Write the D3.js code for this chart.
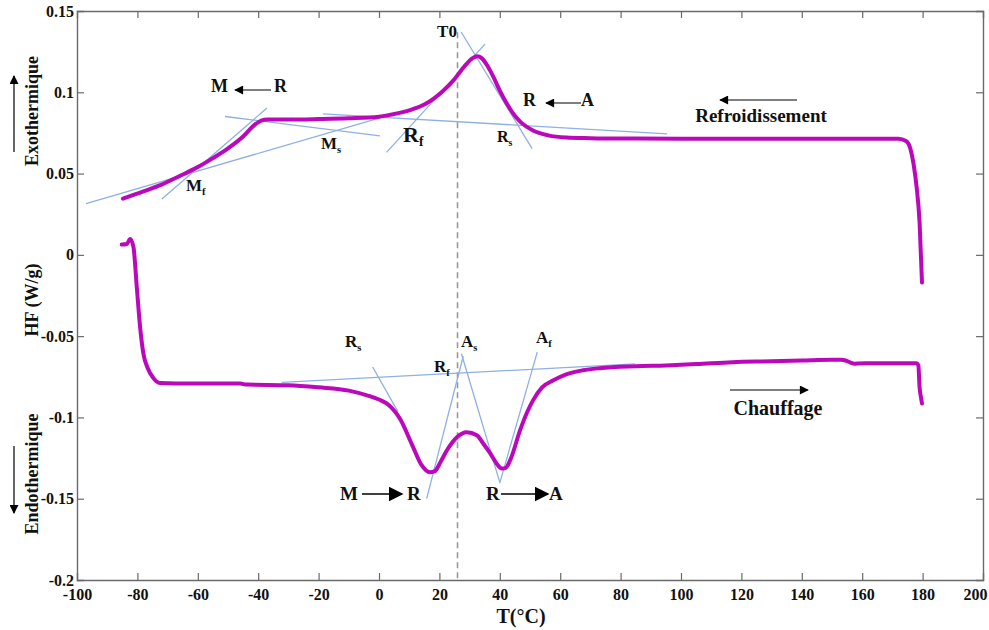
<!DOCTYPE html>
<html><head><meta charset="utf-8">
<script src="https://cdn.jsdelivr.net/npm/d3@7"></script>
<style>body{margin:0;background:#fff}svg{display:block}text{font-family:"Liberation Serif","Times New Roman",serif;font-weight:bold;fill:#111}</style>
</head><body><svg id="c" width="989" height="630"></svg>
<script>
// ---- data ----
const xTicks = [-100,-80,-60,-40,-20,0,20,40,60,80,100,120,140,160,180,200];
const yTicks = [0.15,0.1,0.05,0,-0.05,-0.1,-0.15,-0.2];
const yTickLabels = ["0.15","0.1","0.05","0","-0.05","-0.1","-0.15","-0.2"];

// cooling (Refroidissement) curve
const coolT  = [-84.8,-78,-72,-66,-60,-55,-50,-45,-41.5,-39,-37,-30,-20,-10,0,6,11,15,18,21,24.5,27,29,31,32.5,34,36,38,40,42.5,45,47,51,56,62,70,85,100,120,150,172,174.5,176,177,178,179,179.8];
const coolHF = [0.0346,0.0390,0.0432,0.0485,0.0540,0.0595,0.0655,0.0728,0.0795,0.0826,0.0832,0.0832,0.0835,0.0840,0.0850,0.0870,0.0895,0.0925,0.0960,0.1005,0.1070,0.1130,0.1175,0.1210,0.1222,0.1210,0.1160,0.1090,0.1010,0.0925,0.0855,0.0815,0.0765,0.0735,0.0722,0.0718,0.0715,0.0714,0.0714,0.0714,0.0714,0.0700,0.0650,0.0560,0.0420,0.0200,-0.0170];

// heating (Chauffage) curve
const heatT  = [-85.2,-83.5,-82.4,-81.3,-80.2,-79.1,-78,-76.5,-75,-72.5,-62,-46,-43.8,-30,-20,-10,-4,0,3,7,11,14,16.9,18.5,20.5,22.5,25.8,29,32.4,34.5,36.8,39,40.7,42,43.5,46.7,49,51,54,57.6,62,67.5,73,85,95,105,117,130,140,150,153,154.5,156,157.5,159,161,165,178,178.6,179,179.4,179.8];
const heatHF = [0.0063,0.0067,0.0098,0.0047,-0.0199,-0.0445,-0.0609,-0.0700,-0.0750,-0.0788,-0.0792,-0.0792,-0.0798,-0.0802,-0.0815,-0.0835,-0.0864,-0.0890,-0.0920,-0.1010,-0.1170,-0.1290,-0.1337,-0.1330,-0.1270,-0.1202,-0.1122,-0.1091,-0.1110,-0.1160,-0.1220,-0.1285,-0.1314,-0.1310,-0.1260,-0.1080,-0.0970,-0.0895,-0.0815,-0.0773,-0.0735,-0.0710,-0.0697,-0.0685,-0.0680,-0.0672,-0.0660,-0.0655,-0.0650,-0.0645,-0.0645,-0.0650,-0.0662,-0.0670,-0.0668,-0.0667,-0.0667,-0.0667,-0.0680,-0.0815,-0.0870,-0.0914];

// tangent construction lines [T1, HF1, T2, HF2]
const tangents = [
  [-97,0.0315,0.3,0.0843],
  [-71.9,0.0344,-37.1,0.0903],
  [-51,0.0851,0.3,0.0732],
  [-18.5,0.0867,95.4,0.0744],
  [2.5,0.063,35.1,0.1296],
  [27.2,0.1371,50.7,0.0653],
  [-32.2,-0.0784,84.8,-0.0671],
  [-2.1,-0.069,6.3,-0.0966],
  [15.8,-0.1498,27.9,-0.0622],
  [27.3,-0.0608,40.1,-0.1406],
  [52.4,-0.0598,40.1,-0.1396]
];
const T0 = 26;

// ---- chart ----
const svg = d3.select("#c");
const L=77, R=983, T=11, B=580;
const x = d3.scaleLinear().domain([-100,200]).range([L,R]);
const y = d3.scaleLinear().domain([-0.2,0.15]).range([B,T]);
const axisCol = "#6a6a6a";

const defs = svg.append("defs");
defs.append("marker").attr("id","ah").attr("viewBox","0 0 10 10").attr("refX",9).attr("refY",5)
  .attr("markerWidth",10).attr("markerHeight",9).attr("markerUnits","userSpaceOnUse").attr("orient","auto")
  .append("path").attr("d","M0,0L10,5L0,10Z").attr("fill","#000");
defs.append("marker").attr("id","ahb").attr("viewBox","0 0 10 10").attr("refX",9).attr("refY",5)
  .attr("markerWidth",15).attr("markerHeight",15).attr("markerUnits","userSpaceOnUse").attr("orient","auto")
  .append("path").attr("d","M0,0L10,5L0,10Z").attr("fill","#000");

// axes with inward ticks
const fmtY = d => yTickLabels[yTicks.indexOf(d)];
const gB = svg.append("g").attr("transform",`translate(0,${B})`)
  .call(d3.axisBottom(x).tickValues(xTicks).tickSize(-7).tickPadding(9).tickFormat(d=>String(d)));
const gT = svg.append("g").attr("transform",`translate(0,${T})`)
  .call(d3.axisTop(x).tickValues(xTicks).tickSize(-7).tickFormat(""));
const gL = svg.append("g").attr("transform",`translate(${L},0)`)
  .call(d3.axisLeft(y).tickValues(yTicks).tickSize(-7).tickPadding(3).tickFormat(fmtY));
const gR = svg.append("g").attr("transform",`translate(${R},0)`)
  .call(d3.axisRight(y).tickValues(yTicks).tickSize(-7).tickFormat(""));
[gB,gT,gL,gR].forEach(g=>{
  g.attr("font-size",16).attr("font-family","'Liberation Serif','Times New Roman',serif");
  g.select(".domain").attr("stroke",axisCol).attr("stroke-width",1.4);
  g.selectAll(".tick line").attr("stroke",axisCol).attr("stroke-width",1.2);
  g.selectAll("text").attr("font-size",16).attr("fill","#111").attr("font-weight","bold");
});
gB.selectAll(".tick").filter(d=>d===-100||d===200).select("line").remove();
gB.selectAll(".tick").filter(d=>d===200).select("text").attr("dx",-8);
gT.selectAll(".tick").filter(d=>d===-100||d===200).select("line").remove();
gL.selectAll(".tick").filter(d=>d===0.15||d===-0.2).select("line").remove();
gR.selectAll(".tick").filter(d=>d===0.15||d===-0.2).select("line").remove();

// T0 dashed line
svg.append("line").attr("x1",x(T0)).attr("x2",x(T0)).attr("y1",y(0.137)).attr("y2",B)
  .attr("stroke","#999").attr("stroke-width",1.6).attr("stroke-dasharray","6,4");

// tangents
svg.append("g").selectAll("line").data(tangents).join("line")
  .attr("x1",d=>x(d[0])).attr("y1",d=>y(d[1])).attr("x2",d=>x(d[2])).attr("y2",d=>y(d[3]))
  .attr("stroke","#8eb0e2").attr("stroke-width",1.3);

// curves
const lineC = d3.line().x(d=>x(d[0])).y(d=>y(d[1])).curve(d3.curveMonotoneX);
const curveCol = "#bb08bb";
svg.append("path").datum(coolT.map((t,i)=>[t,coolHF[i]])).attr("d",lineC)
  .attr("fill","none").attr("stroke",curveCol).attr("stroke-width",4).attr("stroke-linejoin","round").attr("stroke-linecap","round");
svg.append("path").datum(heatT.map((t,i)=>[t,heatHF[i]])).attr("d",lineC)
  .attr("fill","none").attr("stroke",curveCol).attr("stroke-width",4).attr("stroke-linejoin","round").attr("stroke-linecap","round");

// helper for labels
function lab(px,py,txt,size,sub,anchor){
  const t = svg.append("text").attr("x",px).attr("y",py).attr("font-size",size||15).attr("text-anchor",anchor||"start");
  t.append("tspan").text(txt);
  if(sub) t.append("tspan").text(sub).attr("font-size",(size||15)*0.62).attr("dy",4);
  return t;
}
function arrow(x1,y1,x2,y2,big){
  svg.append("line").attr("x1",x1).attr("y1",y1).attr("x2",x2).attr("y2",y2)
    .attr("stroke","#000").attr("stroke-width",big?1.6:1.2).attr("marker-end",big?"url(#ahb)":"url(#ah)");
}

// upper annotations
lab(447,37,"T0",17,null,"middle");
lab(211,92,"M",18); arrow(271,90,235,90); lab(274,92,"R",18);
lab(321,149,"M",17,"s");
lab(403,142,"R",22,"f");
lab(497,142,"R",16,"s");
lab(523,106,"R",18); arrow(581,103,546,103); lab(581,106,"A",18);
arrow(797,100,720,100);
lab(761,122,"Refroidissement",19,null,"middle");
lab(186,191,"M",17,"f");

// lower annotations
lab(345,347,"R",17,"s");
lab(434,372,"R",17,"f");
lab(461,347,"A",17,"s");
lab(536,343,"A",17,"f");
arrow(730,390,808,390);
lab(778,415,"Chauffage",20,null,"middle");
lab(340,500,"M",19); arrow(362,494,402,494,true); lab(407,500,"R",19);
lab(486,500,"R",19); arrow(501,494,548,494,true); lab(549,500,"A",19);

// axis titles
lab(521,623,"T(°C)",20,null,"middle");
svg.append("text").attr("transform","translate(38,300) rotate(-90)").attr("text-anchor","middle").attr("font-size",18).text("HF (W/g)");
svg.append("text").attr("transform","translate(38,111) rotate(-90)").attr("text-anchor","middle").attr("font-size",18).text("Exothermique");
svg.append("text").attr("transform","translate(38,474) rotate(-90)").attr("text-anchor","middle").attr("font-size",18).text("Endothermique");
arrow(14,152,14,76);
arrow(14,446,14,513);
</script></body></html>
